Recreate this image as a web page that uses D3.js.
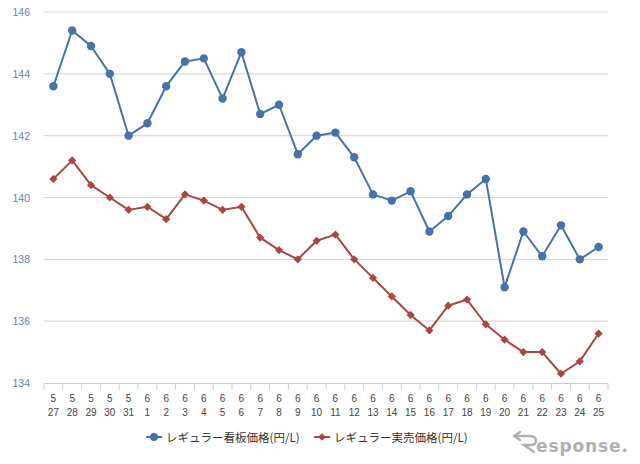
<!DOCTYPE html>
<html><head><meta charset="utf-8">
<script src="https://cdn.jsdelivr.net/npm/d3@7/dist/d3.min.js"></script>
<style>
html,body{margin:0;padding:0;background:#fff;}
svg{display:block;font-family:"Liberation Sans","DejaVu Sans",Arial,sans-serif;}
</style></head>
<body>
<svg id="chart" width="640" height="464"></svg>
<script>
const months = ["5","5","5","5","5","6","6","6","6","6","6","6","6","6","6","6","6","6","6","6","6","6","6","6","6","6","6","6","6","6"];
const days = ["27","28","29","30","31","1","2","3","4","5","6","7","8","9","10","11","12","13","14","15","16","17","18","19","20","21","22","23","24","25"];
const signPrice = [143.6,145.4,144.9,144.0,142.0,142.4,143.6,144.4,144.5,143.2,144.7,142.7,143.0,141.4,142.0,142.1,141.3,140.1,139.9,140.2,138.9,139.4,140.1,140.6,137.1,138.9,138.1,139.1,138.0,138.4];
const actualPrice = [140.6,141.2,140.4,140.0,139.6,139.7,139.3,140.1,139.9,139.6,139.7,138.7,138.3,138.0,138.6,138.8,138.0,137.4,136.8,136.2,135.7,136.5,136.7,135.9,135.4,135.0,135.0,134.3,134.7,135.6];
const yTicks = [134,136,138,140,142,144,146];
const seriesNames = ["レギュラー看板価格(円/L)","レギュラー実売価格(円/L)"];
const colors = ["#4572A7","#AA4643"];

const svg = d3.select("#chart");
const pLeft = 44, pRight = 608, pTop = 12, pBottom = 383;
const idx = d3.range(months.length);
const x = d3.scaleBand().domain(idx).range([pLeft, pRight]);
const y = d3.scaleLinear().domain([134,146]).range([pBottom, pTop]);

// grid
svg.append("g").selectAll("line").data(yTicks.filter(t=>t!==134)).join("line")
  .attr("x1", pLeft).attr("x2", pRight)
  .attr("y1", d=>y(d)).attr("y2", d=>y(d))
  .attr("stroke","#d9d9d9").attr("stroke-width",1.2);

// y labels
svg.append("g").selectAll("text").data(yTicks).join("text")
  .attr("x", 30).attr("y", d=>y(d)+4)
  .attr("text-anchor","end").attr("font-size",10.5).attr("fill","#5d84ba")
  .text(d=>d);

// x axis
svg.append("line").attr("x1",pLeft).attr("x2",pRight).attr("y1",pBottom+0.5).attr("y2",pBottom+0.5)
  .attr("stroke","#C0D0E0").attr("stroke-width",1.2);
const bounds = d3.range(months.length+1).map(i => pLeft + i*x.bandwidth());
svg.append("g").selectAll("line").data(bounds).join("line")
  .attr("x1",d=>d).attr("x2",d=>d).attr("y1",pBottom).attr("y2",pBottom+7)
  .attr("stroke","#C0D0E0").attr("stroke-width",1);
const xl = svg.append("g").selectAll("g").data(idx).join("g");
xl.append("text").attr("x",d=>x(d)+x.bandwidth()/2).attr("y",402)
  .attr("text-anchor","middle").attr("font-size",10).attr("fill","#444").text(d=>months[d]);
xl.append("text").attr("x",d=>x(d)+x.bandwidth()/2).attr("y",416)
  .attr("text-anchor","middle").attr("font-size",10).attr("fill","#444").text(d=>days[d]);

const cx = i => x(i)+x.bandwidth()/2;
const line = d3.line().x((d,i)=>cx(i)).y(d=>y(d));
[signPrice, actualPrice].forEach((s,k)=>{
  svg.append("path").datum(s).attr("d",line).attr("fill","none")
    .attr("stroke",colors[k]).attr("stroke-width",2).attr("stroke-linejoin","round");
});
svg.append("g").selectAll("circle").data(signPrice).join("circle")
  .attr("cx",(d,i)=>cx(i)).attr("cy",d=>y(d)).attr("r",4.2).attr("fill",colors[0]);
const diamond = d3.symbol().type(d3.symbolSquare).size(34);
svg.append("g").selectAll("path").data(actualPrice).join("path")
  .attr("transform",(d,i)=>`translate(${cx(i)},${y(d)}) rotate(45)`)
  .attr("d",diamond).attr("fill",colors[1]);

// legend
const lg = svg.append("g").attr("font-family","'Noto Sans CJK JP','Noto Sans',sans-serif");
const lx = [146, 314];
seriesNames.forEach((n,k)=>{
  const g = lg.append("g").attr("transform",`translate(${lx[k]},437)`);
  g.append("line").attr("x1",0).attr("x2",16).attr("y1",0).attr("y2",0).attr("stroke",colors[k]).attr("stroke-width",2);
  if(k===0) g.append("circle").attr("cx",8).attr("cy",0).attr("r",4).attr("fill",colors[k]);
  else g.append("path").attr("d",d3.symbol().type(d3.symbolSquare).size(30)()).attr("transform","translate(8,0) rotate(45)").attr("fill",colors[k]);
  g.append("text").attr("x",20).attr("y",4.5).attr("font-size",11.5).attr("fill","#333").text(n);
});

// logo
const logo = svg.append("g").attr("transform","translate(512,432)");
logo.append("path").attr("d","M2,4 L8,0 M2,4 L8,8 M2,4 L18,4 Q24,4 24,9 Q24,13 19,13 L12,13 L22,20")
  .attr("fill","none").attr("stroke","#b0b0b0").attr("stroke-width",2.4).attr("stroke-linecap","round");
logo.append("text").attr("x",24).attr("y",20).attr("font-size",17).attr("font-weight","bold")
  .attr("fill","#b0b0b0").attr("font-family","'DejaVu Sans',sans-serif").attr("letter-spacing","0.9").text("esponse.");
</script>
</body></html>
